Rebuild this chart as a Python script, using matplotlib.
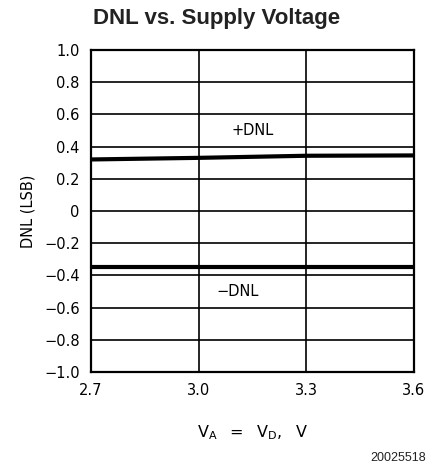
import matplotlib
matplotlib.use("Agg")
import matplotlib.pyplot as plt

supply_v = [2.7, 3.0, 3.3, 3.6]
pos_dnl = [0.32, 0.33, 0.343, 0.345]
neg_dnl = [-0.35, -0.35, -0.35, -0.35]
x_ticks = [2.7, 3.0, 3.3, 3.6]
x_ticklabels = ["2.7", "3.0", "3.3", "3.6"]
y_ticks = [1.0, 0.8, 0.6, 0.4, 0.2, 0.0, -0.2, -0.4, -0.6, -0.8, -1.0]
y_ticklabels = ["1.0", "0.8", "0.6", "0.4", "0.2", "0", "\u22120.2", "\u22120.4", "\u22120.6", "\u22120.8", "\u22121.0"]

fig = plt.figure(figsize=(4.33, 4.71), dpi=100)
ax = fig.add_axes([0.210, 0.210, 0.746, 0.684])

ax.set_xlim(2.7, 3.6)
ax.set_ylim(-1.0, 1.0)
ax.set_xticks(x_ticks)
ax.set_xticklabels(x_ticklabels)
ax.set_yticks(y_ticks)
ax.set_yticklabels(y_ticklabels)
ax.tick_params(length=0, labelsize=10.5, pad=8)
for lab in ax.get_xticklabels() + ax.get_yticklabels():
    lab.set_fontfamily("DejaVu Sans")
ax.grid(True, color="black", linewidth=1.2)
for s in ax.spines.values():
    s.set_linewidth(1.6)

ax.plot(supply_v, pos_dnl, color="black", linewidth=3)
ax.plot(supply_v, neg_dnl, color="black", linewidth=3)
ax.text(3.15, 0.5, "+DNL", ha="center", va="center", fontsize=10.5, family="DejaVu Sans")
ax.text(3.11, -0.5, "\u2212DNL", ha="center", va="center", fontsize=10.5, family="DejaVu Sans")

ax.set_ylabel("DNL (LSB)", fontsize=10.5, family="DejaVu Sans", labelpad=6)
ax.set_xlabel(r"$\mathregular{V_A\ \ =\ \ V_D,\ \ V}$", fontsize=11.5, labelpad=18)

fig.text(0.5, 0.961, "DNL vs. Supply Voltage", ha="center", va="center",
         fontsize=16, fontweight="bold", family="Liberation Sans", color="#222222")
fig.text(0.983, 0.027, "20025518", ha="right", va="center", fontsize=9,
         family="Liberation Sans", color="#222222")

fig.savefig("out.png", dpi=100)
